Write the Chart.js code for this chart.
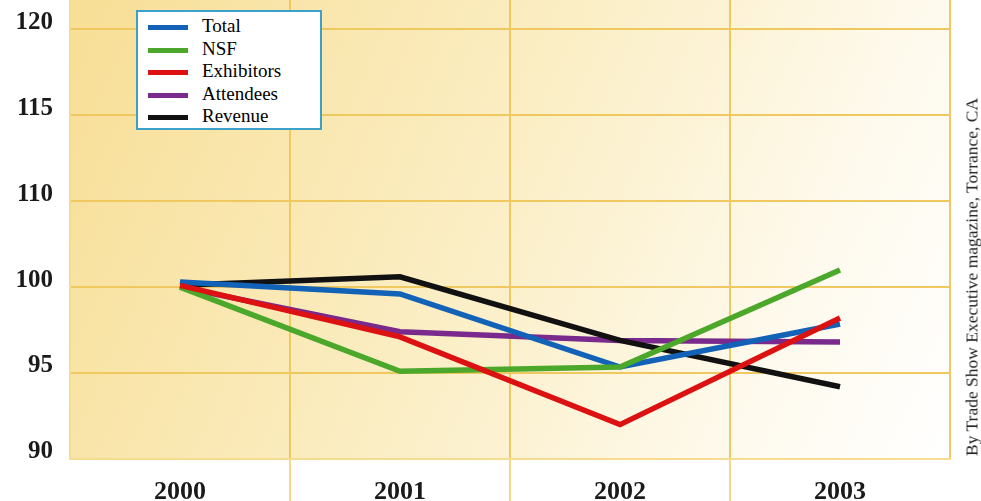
<!DOCTYPE html>
<html>
<head>
<meta charset="utf-8">
<script src="https://cdn.jsdelivr.net/npm/chart.js@4/dist/chart.umd.min.js"></script>
<style>
  body { margin: 0; background: #fff; }
  #wrap { position: relative; width: 981px; height: 501px; }
  #legend {
    position: absolute; left: 136px; top: 10px; width: 182px; height: 116px;
    border: 2px solid #3da0c8; background: #fff;
    font-family: "Liberation Serif", serif; font-size: 19px; color: #000;
  }
  #legend div { position: absolute; left: 10px; height: 22px; line-height: 22px; }
  #legend span.swatch { display: inline-block; width: 40px; height: 5px; vertical-align: middle; margin-right: 14px; }
  #credit {
    position: absolute; left: 972px; top: 277px; white-space: nowrap;
    transform: translate(-50%, -50%) rotate(-90deg);
    font-family: "Liberation Serif", serif; font-size: 17.5px; color: #222;
  }
</style>
</head>
<body>
<div id="wrap">
  <canvas id="trend" width="981" height="501"></canvas>
  <div id="legend"></div>
  <div id="credit">By Trade Show Executive magazine, Torrance, CA</div>
</div>
<script>
var years = ['2000', '2001', '2002', '2003'];

var total = [100.3, 99.6, 95.35, 97.85];
var nsf = [100.0, 95.1, 95.35, 101.0];
var exhibitors = [100.1, 97.1, 92.0, 98.2];
var attendees = [100.0, 97.4, 96.9, 96.8];
var revenue = [100.1, 100.6, 96.9, 94.2];

var seriesNames = ['Total', 'NSF', 'Exhibitors', 'Attendees', 'Revenue'];
var seriesColors = ['#1262b8', '#4ba82a', '#dc1212', '#7a2a8c', '#111111'];

// printed axis labels (the original skips 105, so labels sit one step off)
var tickValues = [90, 95, 100, 105, 110, 115];
var tickLabels = ['90', '95', '100', '110', '115', '120'];

var gridColor = '#f0c860';

var bgPlugin = {
    id: 'bg',
    beforeDraw: function (chart) {
        var a = chart.chartArea;
        var ctx = chart.ctx;
        var g = ctx.createLinearGradient(a.left, a.top + 60, a.right, a.bottom);
        g.addColorStop(0, '#f8df98');
        g.addColorStop(0.45, '#fbeec4');
        g.addColorStop(0.8, '#fefaee');
        g.addColorStop(1, '#ffffff');
        ctx.save();
        ctx.fillStyle = g;
        ctx.fillRect(a.left, a.top, a.right - a.left, a.bottom - a.top);
        ctx.restore();
    }
};

var allSeries = [total, nsf, exhibitors, attendees, revenue];
var drawOrder = [3, 2, 1, 5, 4];

var datasets = allSeries.map(function (vals, i) {
    return {
        label: seriesNames[i],
        data: vals,
        borderColor: seriesColors[i],
        backgroundColor: seriesColors[i],
        borderWidth: 5.5,
        pointRadius: 0,
        tension: 0,
        order: drawOrder[i]
    };
});

var ctx = document.getElementById('trend').getContext('2d');
var trendChart = new Chart(ctx, {
    type: 'line',
    data: { labels: years, datasets: datasets },
    plugins: [bgPlugin],
    options: {
        responsive: false,
        animation: false,
        layout: { padding: { left: 0, right: 31, top: 0, bottom: 0 } },
        plugins: { legend: { display: false }, tooltip: { enabled: false } },
        scales: {
            x: {
                offset: true,
                afterFit: function (scale) {
                    scale.height = 42;
                    scale.paddingLeft = 0;
                    scale.paddingRight = 0;
                },
                grid: {
                    offset: true,
                    color: gridColor,
                    lineWidth: 2,
                    tickLength: 42,
                    tickColor: function (c) {
                        return (c.type !== 'tick' || c.index === 0) ? 'rgba(0,0,0,0)' : '#f5d98a';
                    }
                },
                border: { color: '#f5dc90', width: 2 },
                ticks: {
                    padding: -24,
                    color: '#1a1a1a',
                    font: { family: 'Liberation Serif', size: 26, weight: 'bold' }
                }
            },
            y: {
                min: 90,
                max: 116.7,
                afterFit: function (scale) {
                    scale.width = 70;
                    scale.paddingTop = 0;
                    scale.paddingBottom = 0;
                },
                afterBuildTicks: function (scale) {
                    scale.ticks = tickValues.map(function (v) { return { value: v }; });
                },
                grid: { color: gridColor, lineWidth: 2, drawTicks: false },
                border: { color: '#f5dc90', width: 2 },
                ticks: {
                    padding: 17,
                    labelOffset: -7,
                    color: '#1a1a1a',
                    font: { family: 'Liberation Serif', size: 25, weight: 'bold' },
                    callback: function (v) {
                        var k = tickValues.indexOf(v);
                        return k >= 0 ? tickLabels[k] : '';
                    }
                }
            }
        }
    }
});

var legend = document.getElementById('legend');
seriesNames.forEach(function (name, i) {
    var row = document.createElement('div');
    row.style.top = (3 + i * 22.5) + 'px';
    row.innerHTML = '<span class="swatch" style="background:' + seriesColors[i] + '"></span>' + name;
    legend.appendChild(row);
});
</script>
</body>
</html>
